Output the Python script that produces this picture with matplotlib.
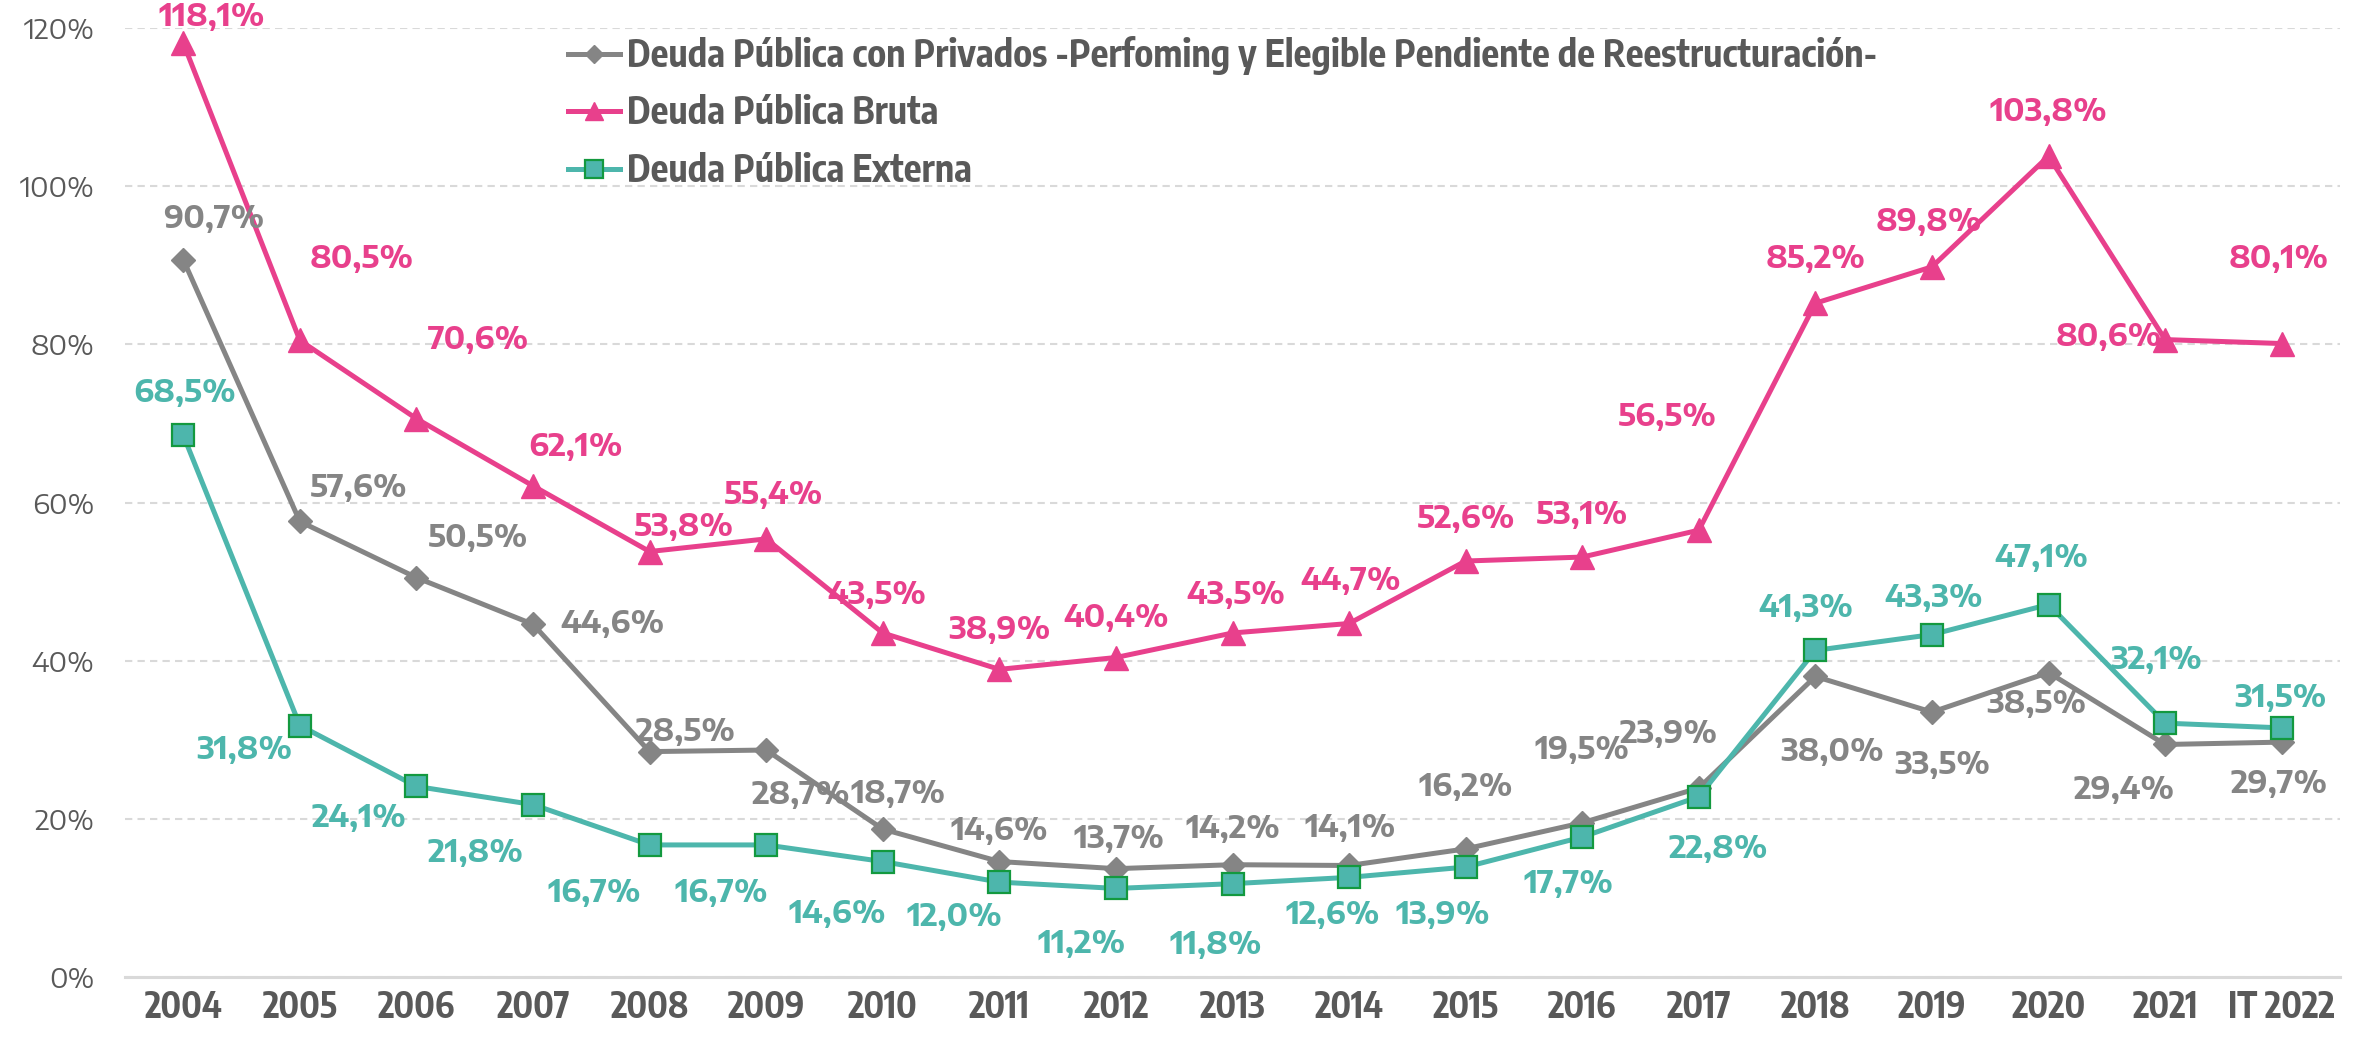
import matplotlib
matplotlib.use("Agg")
import matplotlib.pyplot as plt

# ---------------- data ----------------
categories = ["2004", "2005", "2006", "2007", "2008", "2009", "2010", "2011", "2012",
              "2013", "2014", "2015", "2016", "2017", "2018", "2019", "2020", "2021", "IT 2022"]
privados = [90.7, 57.6, 50.5, 44.6, 28.5, 28.7, 18.7, 14.6, 13.7, 14.2, 14.1, 16.2,
            19.5, 23.9, 38.0, 33.5, 38.5, 29.4, 29.7]
bruta = [118.1, 80.5, 70.6, 62.1, 53.8, 55.4, 43.5, 38.9, 40.4, 43.5, 44.7, 52.6,
         53.1, 56.5, 85.2, 89.8, 103.8, 80.6, 80.1]
externa = [68.5, 31.8, 24.1, 21.8, 16.7, 16.7, 14.6, 12.0, 11.2, 11.8, 12.6, 13.9,
           17.7, 22.8, 41.3, 43.3, 47.1, 32.1, 31.5]
series_names = ["Deuda Pública con Privados -Perfoming y Elegible Pendiente de Reestructuración-",
                "Deuda Pública Bruta",
                "Deuda Pública Externa"]
yticks = [0, 20, 40, 60, 80, 100, 120]

# ---------------- layout (label offsets, px in reference-preview scale: dx right, dy down) ----------------
off_priv = [(20, -27), (39, -22), (41, -26), (53, 0), (24, -13), (23, 30), (10, -23), (0, -20),
            (2, -20), (0, -24), (1, -25), (0, -41), (0, -48), (-20, -36), (11, 50), (7, 35),
            (-8, 21), (-27, 30), (-2, 28)]
off_bruta = [(19, -17), (41, -54), (41, -52), (28, -26), (23, -16), (5, -29), (-4, -25), (0, -26),
             (0, -26), (2, -25), (1, -28), (0, -28), (0, -28), (-21, -75), (0, -29), (-2, -30),
             (0, -29), (-37, -2), (-2, -56)]
off_ext = [(1, -28), (-37, 16), (-38, 21), (-38, 32), (-37, 32), (-30, 32), (-30, 35), (-30, 23),
           (-23, 37), (-11, 41), (-11, 25), (-15, 32), (-9, 31), (13, 35), (-6, -28), (1, -24),
           (-5, -31), (-6, -42), (-1, -20)]
SCALE = 2364 / 1568

C_GRAY = "#858585"
C_PINK = "#E8408C"
C_TEAL = "#4DB6AC"
C_EDGE = "#13993F"
C_TXT = "#595959"

LABEL_FONT = ["Encode Sans Semi Expanded", "Open Sans", "DejaVu Sans"]
NARROW_FONT = ["Encode Sans Condensed", "Archivo Narrow", "DejaVu Sans"]
LIGHT_FONT = ["Encode Sans Semi Expanded", "Open Sans", "DejaVu Sans"]

W, H = 2364, 1037
fig = plt.figure(figsize=(W / 100, H / 100), dpi=100)
ax = fig.add_axes([125 / W, 1 - 977 / H, (2340 - 125) / W, (977 - 28) / H])

x = list(range(len(categories)))
l1, = ax.plot(x, privados, color=C_GRAY, lw=3.6, marker="D", ms=12.5,
              mfc=C_GRAY, mec=C_GRAY, zorder=3, label=series_names[0])
l2, = ax.plot(x, bruta, color=C_PINK, lw=3.6, marker="^", ms=17,
              mfc=C_PINK, mec=C_PINK, zorder=4, label=series_names[1])
l3, = ax.plot(x, externa, color=C_TEAL, lw=3.6, marker="s", ms=16.5,
              mfc=C_TEAL, mec=C_EDGE, mew=1.6, zorder=5, label=series_names[2])


def fmt(v):
    return f"{v:.1f}".replace(".", ",") + "%"


for vals, offs, col in [(privados, off_priv, C_GRAY), (bruta, off_bruta, C_PINK),
                        (externa, off_ext, C_TEAL)]:
    for i, (v, (dx, dy)) in enumerate(zip(vals, offs)):
        ax.annotate(fmt(v), (i, v), xytext=(dx * SCALE, -dy * SCALE), textcoords="offset pixels",
                    ha="center", va="center", color=col, fontsize=22, fontweight="bold",
                    family=LABEL_FONT, zorder=6, annotation_clip=False)

ax.set_xlim(-0.5, len(categories) - 0.5)
ax.set_ylim(0, 120)
ax.set_yticks(yticks)
ax.set_yticklabels([f"{t}%" for t in yticks], family=LIGHT_FONT,
                   fontweight="normal", fontsize=20, color=C_TXT)
ax.set_xticks(x)
ax.set_xticklabels(categories, family=NARROW_FONT, fontweight="bold", fontsize=25.5, color=C_TXT)
ax.tick_params(axis="both", length=0)
ax.tick_params(axis="y", pad=22)
ax.tick_params(axis="x", pad=9)

for s in ax.spines.values():
    s.set_visible(False)
ax.yaxis.grid(True, color="#D9D9D9", lw=1.5, linestyle=(0, (3.5, 2.5)), zorder=0)
ax.set_axisbelow(True)
ax.axhline(0, color="#D9D9D9", lw=2.2, zorder=1, clip_on=False)

leg = ax.legend(handles=[l1, l2, l3], loc="upper left",
                bbox_to_anchor=(568 / W, 1 - 36 / H), bbox_transform=fig.transFigure,
                frameon=False, prop={"family": NARROW_FONT, "weight": "bold", "size": 26.7},
                handlelength=1.4, handletextpad=0.2, labelspacing=0.52, borderpad=0,
                borderaxespad=0, markerscale=0.75)
for t in leg.get_texts():
    t.set_color(C_TXT)

fig.savefig("out.png", dpi=100)
